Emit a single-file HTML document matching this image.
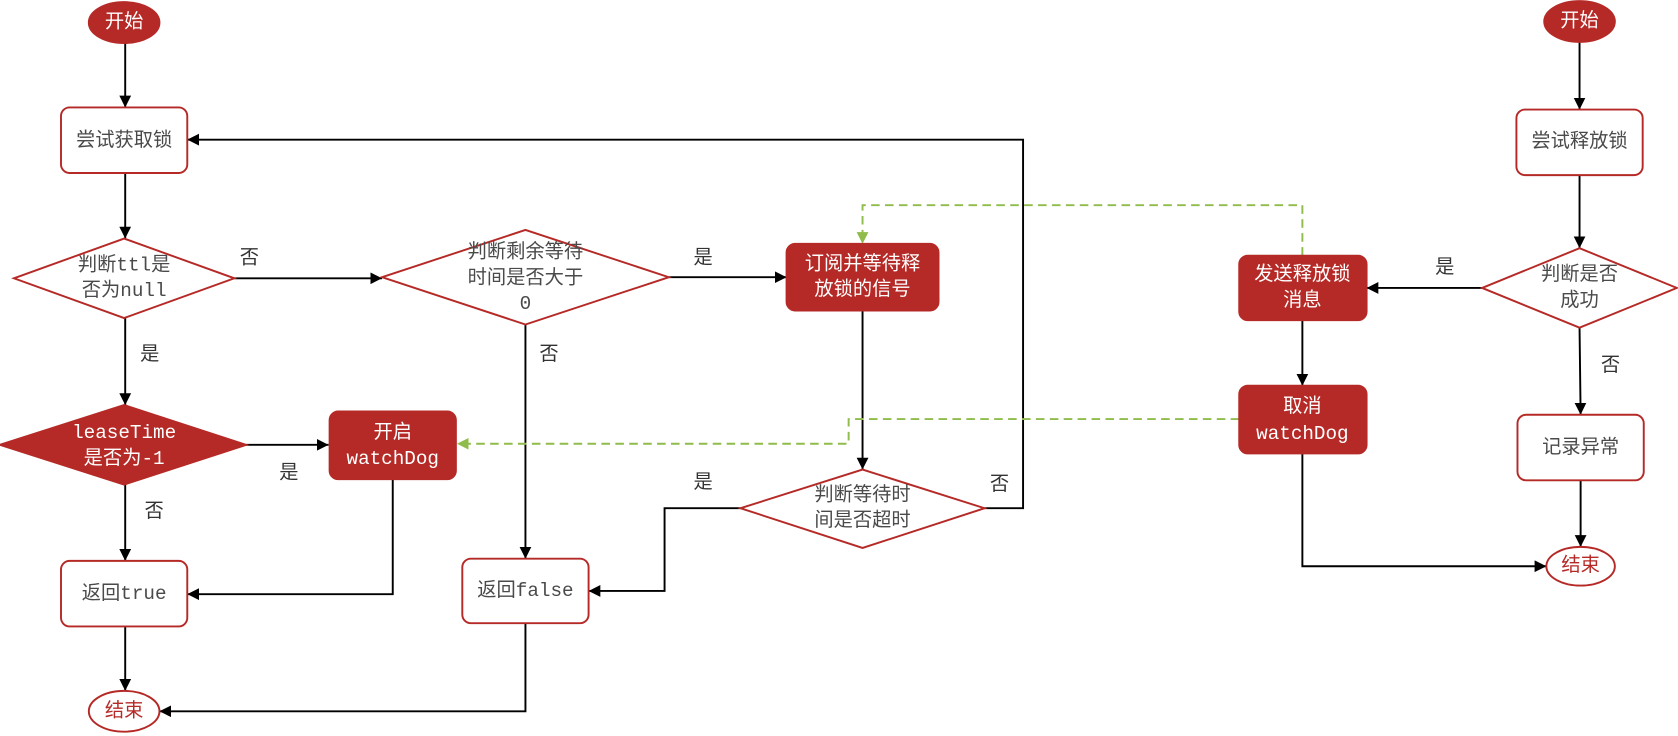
<!DOCTYPE html>
<html><head><meta charset="utf-8"><style>
html,body{margin:0;padding:0;background:#fff;}
svg{display:block;}
text{font-family:"Liberation Mono","Noto Sans CJK SC",monospace;font-size:18px;text-anchor:middle;dominant-baseline:central;fill:#4a4a4a;}
.w{fill:#fff;}
.lb{font-family:"Liberation Sans","Noto Sans CJK SC",sans-serif;fill:#333;}
</style></head><body>
<svg width="1678" height="736" viewBox="0 0 1568 685" preserveAspectRatio="none" xmlns="http://www.w3.org/2000/svg">
<defs>
<marker id="a" markerWidth="12" markerHeight="12" refX="11" refY="5.5" orient="auto" markerUnits="userSpaceOnUse"><path d="M0,0 L11,5.5 L0,11 Z" fill="#000"/></marker>
<marker id="g" markerWidth="12" markerHeight="12" refX="11" refY="5.5" orient="auto" markerUnits="userSpaceOnUse"><path d="M0,0 L11,5.5 L0,11 Z" fill="#8fbc4a"/></marker>
</defs>
<g stroke="#000" stroke-width="1.8" fill="none">
<path d="M117,40 V100" marker-end="url(#a)"/>
<path d="M117,161 V222" marker-end="url(#a)"/>
<path d="M219,259 H357" marker-end="url(#a)"/>
<path d="M625,258 H735" marker-end="url(#a)"/>
<path d="M117,296 V377" marker-end="url(#a)"/>
<path d="M230,414 H307" marker-end="url(#a)"/>
<path d="M117,451 V522" marker-end="url(#a)"/>
<path d="M367,446 V553 H175" marker-end="url(#a)"/>
<path d="M117,583 V643" marker-end="url(#a)"/>
<path d="M491,302 V520" marker-end="url(#a)"/>
<path d="M491,580 V662 H149" marker-end="url(#a)"/>
<path d="M806,289 V437" marker-end="url(#a)"/>
<path d="M692,473 H621 V550 H550" marker-end="url(#a)"/>
<path d="M920,473 H956 V130 H175" marker-end="url(#a)"/>
<path d="M1476,39 V102" marker-end="url(#a)"/>
<path d="M1476,163 V231" marker-end="url(#a)"/>
<path d="M1385,268 H1277" marker-end="url(#a)"/>
<path d="M1217,298 V359" marker-end="url(#a)"/>
<path d="M1476,305 L1477,386" marker-end="url(#a)"/>
<path d="M1477,447 V509" marker-end="url(#a)"/>
<path d="M1217,422 V527 H1445" marker-end="url(#a)"/>
</g>
<g stroke="#8fbc4a" stroke-width="1.8" fill="none" stroke-dasharray="8,5">
<path d="M1217,238 V191 H806 V227" marker-end="url(#g)"/>
<path d="M1158,390 H793 V413 H427" marker-end="url(#g)"/>
</g>
<g stroke="#b52a27" stroke-width="1.8">
<ellipse cx="116" cy="21" rx="33" ry="19" fill="#b52a27"/>
<rect x="57" y="100" width="118" height="61" rx="8" fill="#fff"/>
<polygon points="13,259 116,222 219,259 116,296" fill="#fff"/>
<polygon points="357,258 491,214 625,258 491,302" fill="#fff"/>
<rect x="735" y="227" width="142" height="62" rx="8" fill="#b52a27"/>
<polygon points="0,414 116,377 230,414 116,451" fill="#b52a27"/>
<rect x="308" y="383" width="118" height="63" rx="8" fill="#b52a27"/>
<rect x="57" y="522" width="118" height="61" rx="8" fill="#fff"/>
<rect x="432" y="520" width="118" height="60" rx="8" fill="#fff"/>
<polygon points="692,473 806,437 920,473 806,510" fill="#fff"/>
<ellipse cx="116" cy="662" rx="33" ry="19" fill="#fff"/>
<ellipse cx="1476" cy="20" rx="33" ry="19" fill="#b52a27"/>
<rect x="1417" y="102" width="118" height="61" rx="8" fill="#fff"/>
<polygon points="1385,268 1476,231 1567,268 1476,305" fill="#fff"/>
<rect x="1158" y="238" width="119" height="60" rx="8" fill="#b52a27"/>
<rect x="1158" y="359" width="119" height="63" rx="8" fill="#b52a27"/>
<rect x="1418" y="386" width="118" height="61" rx="8" fill="#fff"/>
<ellipse cx="1477" cy="527" rx="32" ry="18" fill="#fff"/>
</g>
<text x="116" y="21" class="w">开始</text>
<text x="116" y="131">尝试获取锁</text>
<text x="116" y="247">判断ttl是</text>
<text x="116" y="271">否为null</text>
<text x="491" y="235">判断剩余等待</text>
<text x="491" y="259">时间是否大于</text>
<text x="491" y="283">0</text>
<text x="806" y="246" class="w">订阅并等待释</text>
<text x="806" y="270" class="w">放锁的信号</text>
<text x="116" y="403" class="w">leaseTime</text>
<text x="116" y="427" class="w">是否为-1</text>
<text x="367" y="403" class="w">开启</text>
<text x="367" y="427" class="w">watchDog</text>
<text x="116" y="553">返回true</text>
<text x="491" y="550">返回false</text>
<text x="806" y="461">判断等待时</text>
<text x="806" y="485">间是否超时</text>
<text x="116" y="662" style="fill:#b52a27">结束</text>
<text x="1476" y="20" class="w">开始</text>
<text x="1476" y="132">尝试释放锁</text>
<text x="1476" y="256">判断是否</text>
<text x="1476" y="280">成功</text>
<text x="1217" y="256" class="w">发送释放锁</text>
<text x="1217" y="280" class="w">消息</text>
<text x="1217" y="379" class="w">取消</text>
<text x="1217" y="404" class="w">watchDog</text>
<text x="1477" y="417">记录异常</text>
<text x="1477" y="527" style="fill:#b52a27">结束</text>
<text x="233" y="240" class="lb">否</text>
<text x="657" y="240" class="lb">是</text>
<text x="140" y="330" class="lb">是</text>
<text x="513" y="330" class="lb">否</text>
<text x="270" y="440" class="lb">是</text>
<text x="144" y="476" class="lb">否</text>
<text x="657" y="449" class="lb">是</text>
<text x="934" y="451" class="lb">否</text>
<text x="1350" y="249" class="lb">是</text>
<text x="1505" y="340" class="lb">否</text>
</svg>
</body></html>
